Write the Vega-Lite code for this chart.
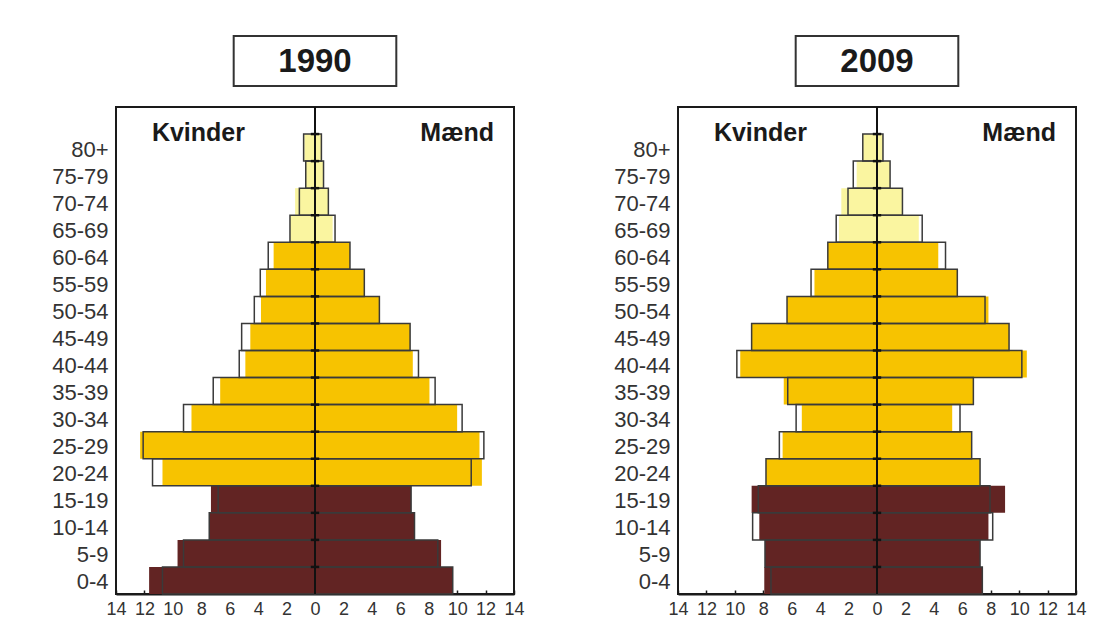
{
  "$schema": "https://vega.github.io/schema/vega-lite/v6.json",
  "background": "white",
  "padding": {"left": 50, "top": 35, "right": 5, "bottom": 5},
  "config": {"font": "Liberation Sans", "view": {"stroke": null}, "axis": {"labelOverlap": false}, "axisX": {"labelOverlap": false}},
  "datasets": {
    "pop": [
      {"year":"1990","age":"80+","sex":"Kvinder","group":"65+","value":-0.75,"ref":-0.8},
      {"year":"1990","age":"80+","sex":"Mænd","group":"65+","value":0.45,"ref":0.45},
      {"year":"1990","age":"75-79","sex":"Kvinder","group":"65+","value":-0.65,"ref":-0.65},
      {"year":"1990","age":"75-79","sex":"Mænd","group":"65+","value":0.6,"ref":0.6},
      {"year":"1990","age":"70-74","sex":"Kvinder","group":"65+","value":-1.4,"ref":-1.1},
      {"year":"1990","age":"70-74","sex":"Mænd","group":"65+","value":0.94,"ref":0.94},
      {"year":"1990","age":"65-69","sex":"Kvinder","group":"65+","value":-1.76,"ref":-1.76},
      {"year":"1990","age":"65-69","sex":"Mænd","group":"65+","value":1.24,"ref":1.41},
      {"year":"1990","age":"60-64","sex":"Kvinder","group":"20-64","value":-2.91,"ref":-3.29},
      {"year":"1990","age":"60-64","sex":"Mænd","group":"20-64","value":2.46,"ref":2.46},
      {"year":"1990","age":"55-59","sex":"Kvinder","group":"20-64","value":-3.45,"ref":-3.85},
      {"year":"1990","age":"55-59","sex":"Mænd","group":"20-64","value":3.47,"ref":3.47},
      {"year":"1990","age":"50-54","sex":"Kvinder","group":"20-64","value":-3.8,"ref":-4.27},
      {"year":"1990","age":"50-54","sex":"Mænd","group":"20-64","value":4.53,"ref":4.53},
      {"year":"1990","age":"45-49","sex":"Kvinder","group":"20-64","value":-4.55,"ref":-5.16},
      {"year":"1990","age":"45-49","sex":"Mænd","group":"20-64","value":6.69,"ref":6.69},
      {"year":"1990","age":"40-44","sex":"Kvinder","group":"20-64","value":-4.9,"ref":-5.33},
      {"year":"1990","age":"40-44","sex":"Mænd","group":"20-64","value":6.88,"ref":7.28},
      {"year":"1990","age":"35-39","sex":"Kvinder","group":"20-64","value":-6.67,"ref":-7.16},
      {"year":"1990","age":"35-39","sex":"Mænd","group":"20-64","value":8.05,"ref":8.45},
      {"year":"1990","age":"30-34","sex":"Kvinder","group":"20-64","value":-8.69,"ref":-9.25},
      {"year":"1990","age":"30-34","sex":"Mænd","group":"20-64","value":10.0,"ref":10.35},
      {"year":"1990","age":"25-29","sex":"Kvinder","group":"20-64","value":-12.3,"ref":-12.09},
      {"year":"1990","age":"25-29","sex":"Mænd","group":"20-64","value":11.57,"ref":11.88},
      {"year":"1990","age":"20-24","sex":"Kvinder","group":"20-64","value":-10.73,"ref":-11.43},
      {"year":"1990","age":"20-24","sex":"Mænd","group":"20-64","value":11.74,"ref":10.99},
      {"year":"1990","age":"15-19","sex":"Kvinder","group":"0-19","value":-7.32,"ref":-6.81},
      {"year":"1990","age":"15-19","sex":"Mænd","group":"0-19","value":6.76,"ref":6.76},
      {"year":"1990","age":"10-14","sex":"Kvinder","group":"0-19","value":-7.44,"ref":-7.44},
      {"year":"1990","age":"10-14","sex":"Mænd","group":"0-19","value":7.0,"ref":7.0},
      {"year":"1990","age":"5-9","sex":"Kvinder","group":"0-19","value":-9.67,"ref":-9.25},
      {"year":"1990","age":"5-9","sex":"Mænd","group":"0-19","value":8.87,"ref":8.64},
      {"year":"1990","age":"0-4","sex":"Kvinder","group":"0-19","value":-11.67,"ref":-10.73},
      {"year":"1990","age":"0-4","sex":"Mænd","group":"0-19","value":9.69,"ref":9.69},
      {"year":"2009","age":"80+","sex":"Kvinder","group":"65+","value":-1.0,"ref":-1.0},
      {"year":"2009","age":"80+","sex":"Mænd","group":"65+","value":0.42,"ref":0.42},
      {"year":"2009","age":"75-79","sex":"Kvinder","group":"65+","value":-1.43,"ref":-1.67},
      {"year":"2009","age":"75-79","sex":"Mænd","group":"65+","value":0.92,"ref":0.92},
      {"year":"2009","age":"70-74","sex":"Kvinder","group":"65+","value":-2.51,"ref":-2.04},
      {"year":"2009","age":"70-74","sex":"Mænd","group":"65+","value":1.79,"ref":1.79},
      {"year":"2009","age":"65-69","sex":"Kvinder","group":"65+","value":-2.68,"ref":-2.87},
      {"year":"2009","age":"65-69","sex":"Mænd","group":"65+","value":2.94,"ref":3.18},
      {"year":"2009","age":"60-64","sex":"Kvinder","group":"20-64","value":-3.46,"ref":-3.46},
      {"year":"2009","age":"60-64","sex":"Mænd","group":"20-64","value":4.31,"ref":4.82},
      {"year":"2009","age":"55-59","sex":"Kvinder","group":"20-64","value":-4.4,"ref":-4.64},
      {"year":"2009","age":"55-59","sex":"Mænd","group":"20-64","value":5.65,"ref":5.65},
      {"year":"2009","age":"50-54","sex":"Kvinder","group":"20-64","value":-6.33,"ref":-6.33},
      {"year":"2009","age":"50-54","sex":"Mænd","group":"20-64","value":7.84,"ref":7.6},
      {"year":"2009","age":"45-49","sex":"Kvinder","group":"20-64","value":-8.82,"ref":-8.82},
      {"year":"2009","age":"45-49","sex":"Mænd","group":"20-64","value":9.29,"ref":9.29},
      {"year":"2009","age":"40-44","sex":"Kvinder","group":"20-64","value":-9.62,"ref":-9.86},
      {"year":"2009","age":"40-44","sex":"Mænd","group":"20-64","value":10.54,"ref":10.19},
      {"year":"2009","age":"35-39","sex":"Kvinder","group":"20-64","value":-6.56,"ref":-6.28},
      {"year":"2009","age":"35-39","sex":"Mænd","group":"20-64","value":6.78,"ref":6.78},
      {"year":"2009","age":"30-34","sex":"Kvinder","group":"20-64","value":-5.29,"ref":-5.69},
      {"year":"2009","age":"30-34","sex":"Mænd","group":"20-64","value":5.29,"ref":5.84},
      {"year":"2009","age":"25-29","sex":"Kvinder","group":"20-64","value":-6.64,"ref":-6.87},
      {"year":"2009","age":"25-29","sex":"Mænd","group":"20-64","value":6.66,"ref":6.66},
      {"year":"2009","age":"20-24","sex":"Kvinder","group":"20-64","value":-7.81,"ref":-7.81},
      {"year":"2009","age":"20-24","sex":"Mænd","group":"20-64","value":7.25,"ref":7.25},
      {"year":"2009","age":"15-19","sex":"Kvinder","group":"0-19","value":-8.82,"ref":-8.35},
      {"year":"2009","age":"15-19","sex":"Mænd","group":"0-19","value":9.01,"ref":7.95},
      {"year":"2009","age":"10-14","sex":"Kvinder","group":"0-19","value":-8.28,"ref":-8.75},
      {"year":"2009","age":"10-14","sex":"Mænd","group":"0-19","value":7.84,"ref":8.14},
      {"year":"2009","age":"5-9","sex":"Kvinder","group":"0-19","value":-7.88,"ref":-7.88},
      {"year":"2009","age":"5-9","sex":"Mænd","group":"0-19","value":7.25,"ref":7.25},
      {"year":"2009","age":"0-4","sex":"Kvinder","group":"0-19","value":-7.93,"ref":-7.46},
      {"year":"2009","age":"0-4","sex":"Mænd","group":"0-19","value":7.41,"ref":7.41}
    ]
  },
  "spacing": 86,
  "hconcat": [
    {
      "spacing": 18,
      "vconcat": [
        {
          "width": 398, "height": 50,
          "data": {"values": [{"year": "1990"}]},
          "layer": [
            {"mark": {"type": "rect", "fill": "white", "stroke": "#333", "strokeWidth": 2},
             "encoding": {"x": {"datum": -5.72, "type": "quantitative", "scale": {"domain": [-14, 14], "nice": false}, "axis": null}, "x2": {"datum": 5.72}}},
            {"mark": {"type": "text", "fontSize": 33, "fontWeight": "bold", "color": "#1a1a1a", "baseline": "middle", "dy": 1},
             "encoding": {"text": {"field": "year"}}}
          ]
        },
        {
          "width": 398, "height": 487,
          "view": {"stroke": "#1a1a1a", "strokeWidth": 2},
          "layer": [
            {"data": {"name": "pop"}, "transform": [{"filter": "datum.year == '1990'"}],
             "mark": {"type": "bar"},
             "encoding": {
               "y": {"field": "age", "type": "nominal", "scale": {"domain": ["top","80+","75-79","70-74","65-69","60-64","55-59","50-54","45-49","40-44","35-39","30-34","25-29","20-24","15-19","10-14","5-9","0-4"], "paddingInner": 0, "paddingOuter": 0},
                     "axis": {"title": null, "ticks": false, "domain": false, "labelFontSize": 22, "labelPadding": 8, "labelColor": "#333", "labelOffset": 2, "labelExpr": "datum.value == 'top' ? '' : datum.value"}},
               "x": {"field": "value", "type": "quantitative", "scale": {"domain": [-14, 14], "nice": false},
                     "axis": {"title": null, "values": [-14,-12,-10,-8,-6,-4,-2,0,2,4,6,8,10,12,14], "labelExpr": "'' + abs(datum.value)", "grid": false, "domainColor": "#1a1a1a", "domainWidth": 2, "tickColor": "#1a1a1a", "tickSize": -4, "tickWidth": 1.5, "labelFontSize": 18, "labelColor": "#333", "labelPadding": 10, "labelOverlap": false, "labelFlush": false, "labelBound": false}},
               "color": {"field": "group", "type": "nominal", "scale": {"domain": ["0-19", "20-64", "65+"], "range": ["#622423", "#F7C300", "#FAF5A0"]}, "legend": null}
             }},
            {"data": {"name": "pop"}, "transform": [{"filter": "datum.year == '1990'"}],
             "mark": {"type": "bar", "fill": "white", "fillOpacity": 0, "stroke": "#3a3a3a", "strokeWidth": 1.5},
             "encoding": {
               "y": {"field": "age", "type": "nominal"},
               "x": {"field": "ref", "type": "quantitative",
                     "axis": {"title": null, "values": [-14,-12,-10,-8,-6,-4,-2,0,2,4,6,8,10,12,14], "labelExpr": "'' + abs(datum.value)", "grid": false, "domainColor": "#1a1a1a", "domainWidth": 2, "tickColor": "#1a1a1a", "tickSize": -4, "tickWidth": 1.5, "labelFontSize": 18, "labelColor": "#333", "labelPadding": 10, "labelOverlap": false, "labelFlush": false, "labelBound": false}}
             }},
            {"data": {"values": [{"zero": 0}]},
             "mark": {"type": "rule", "color": "#111", "strokeWidth": 2},
             "encoding": {"x": {"field": "zero", "type": "quantitative",
                     "axis": {"title": null, "values": [-14,-12,-10,-8,-6,-4,-2,0,2,4,6,8,10,12,14], "labelExpr": "'' + abs(datum.value)", "grid": false, "domainColor": "#1a1a1a", "domainWidth": 2, "tickColor": "#1a1a1a", "tickSize": -4, "tickWidth": 1.5, "labelFontSize": 18, "labelColor": "#333", "labelPadding": 10, "labelOverlap": false, "labelFlush": false, "labelBound": false}}}},
            {"data": {"name": "pop"}, "transform": [{"filter": "datum.year == '1990' && datum.sex == 'Kvinder'"}],
             "mark": {"type": "point", "shape": "stroke", "size": 70, "strokeWidth": 2.5, "color": "#111", "filled": false, "opacity": 1},
             "encoding": {"x": {"datum": 0, "type": "quantitative",
                     "axis": {"title": null, "values": [-14,-12,-10,-8,-6,-4,-2,0,2,4,6,8,10,12,14], "labelExpr": "'' + abs(datum.value)", "grid": false, "domainColor": "#1a1a1a", "domainWidth": 2, "tickColor": "#1a1a1a", "tickSize": -4, "tickWidth": 1.5, "labelFontSize": 18, "labelColor": "#333", "labelPadding": 10, "labelOverlap": false, "labelFlush": false, "labelBound": false}},
                          "y": {"field": "age", "type": "nominal", "bandPosition": 0}}},
            {"data": {"values": [{"label": "Kvinder"}]},
             "mark": {"type": "text", "fontSize": 25, "fontWeight": "bold", "color": "#1a1a1a", "baseline": "middle", "dy": 12},
             "encoding": {"x": {"datum": -8.2, "type": "quantitative",
                     "axis": {"title": null, "values": [-14,-12,-10,-8,-6,-4,-2,0,2,4,6,8,10,12,14], "labelExpr": "'' + abs(datum.value)", "grid": false, "domainColor": "#1a1a1a", "domainWidth": 2, "tickColor": "#1a1a1a", "tickSize": -4, "tickWidth": 1.5, "labelFontSize": 18, "labelColor": "#333", "labelPadding": 10, "labelOverlap": false, "labelFlush": false, "labelBound": false}},
                          "y": {"datum": "top", "type": "nominal"}, "text": {"field": "label"}}},
            {"data": {"values": [{"label": "Mænd"}]},
             "mark": {"type": "text", "fontSize": 25, "fontWeight": "bold", "color": "#1a1a1a", "baseline": "middle", "dy": 12},
             "encoding": {"x": {"datum": 10.0, "type": "quantitative",
                     "axis": {"title": null, "values": [-14,-12,-10,-8,-6,-4,-2,0,2,4,6,8,10,12,14], "labelExpr": "'' + abs(datum.value)", "grid": false, "domainColor": "#1a1a1a", "domainWidth": 2, "tickColor": "#1a1a1a", "tickSize": -4, "tickWidth": 1.5, "labelFontSize": 18, "labelColor": "#333", "labelPadding": 10, "labelOverlap": false, "labelFlush": false, "labelBound": false}},
                          "y": {"datum": "top", "type": "nominal"}, "text": {"field": "label"}}}
          ]
        }
      ]
    },
    {
      "spacing": 18,
      "vconcat": [
        {
          "width": 398, "height": 50,
          "data": {"values": [{"year": "2009"}]},
          "layer": [
            {"mark": {"type": "rect", "fill": "white", "stroke": "#333", "strokeWidth": 2},
             "encoding": {"x": {"datum": -5.72, "type": "quantitative", "scale": {"domain": [-14, 14], "nice": false}, "axis": null}, "x2": {"datum": 5.72}}},
            {"mark": {"type": "text", "fontSize": 33, "fontWeight": "bold", "color": "#1a1a1a", "baseline": "middle", "dy": 1},
             "encoding": {"text": {"field": "year"}}}
          ]
        },
        {
          "width": 398, "height": 487,
          "view": {"stroke": "#1a1a1a", "strokeWidth": 2},
          "layer": [
            {"data": {"name": "pop"}, "transform": [{"filter": "datum.year == '2009'"}],
             "mark": {"type": "bar"},
             "encoding": {
               "y": {"field": "age", "type": "nominal", "scale": {"domain": ["top","80+","75-79","70-74","65-69","60-64","55-59","50-54","45-49","40-44","35-39","30-34","25-29","20-24","15-19","10-14","5-9","0-4"], "paddingInner": 0, "paddingOuter": 0},
                     "axis": {"title": null, "ticks": false, "domain": false, "labelFontSize": 22, "labelPadding": 8, "labelColor": "#333", "labelOffset": 2, "labelExpr": "datum.value == 'top' ? '' : datum.value"}},
               "x": {"field": "value", "type": "quantitative", "scale": {"domain": [-14, 14], "nice": false},
                     "axis": {"title": null, "values": [-14,-12,-10,-8,-6,-4,-2,0,2,4,6,8,10,12,14], "labelExpr": "'' + abs(datum.value)", "grid": false, "domainColor": "#1a1a1a", "domainWidth": 2, "tickColor": "#1a1a1a", "tickSize": -4, "tickWidth": 1.5, "labelFontSize": 18, "labelColor": "#333", "labelPadding": 10, "labelOverlap": false, "labelFlush": false, "labelBound": false}},
               "color": {"field": "group", "type": "nominal", "scale": {"domain": ["0-19", "20-64", "65+"], "range": ["#622423", "#F7C300", "#FAF5A0"]}, "legend": null}
             }},
            {"data": {"name": "pop"}, "transform": [{"filter": "datum.year == '2009'"}],
             "mark": {"type": "bar", "fill": "white", "fillOpacity": 0, "stroke": "#3a3a3a", "strokeWidth": 1.5},
             "encoding": {
               "y": {"field": "age", "type": "nominal"},
               "x": {"field": "ref", "type": "quantitative",
                     "axis": {"title": null, "values": [-14,-12,-10,-8,-6,-4,-2,0,2,4,6,8,10,12,14], "labelExpr": "'' + abs(datum.value)", "grid": false, "domainColor": "#1a1a1a", "domainWidth": 2, "tickColor": "#1a1a1a", "tickSize": -4, "tickWidth": 1.5, "labelFontSize": 18, "labelColor": "#333", "labelPadding": 10, "labelOverlap": false, "labelFlush": false, "labelBound": false}}
             }},
            {"data": {"values": [{"zero": 0}]},
             "mark": {"type": "rule", "color": "#111", "strokeWidth": 2},
             "encoding": {"x": {"field": "zero", "type": "quantitative",
                     "axis": {"title": null, "values": [-14,-12,-10,-8,-6,-4,-2,0,2,4,6,8,10,12,14], "labelExpr": "'' + abs(datum.value)", "grid": false, "domainColor": "#1a1a1a", "domainWidth": 2, "tickColor": "#1a1a1a", "tickSize": -4, "tickWidth": 1.5, "labelFontSize": 18, "labelColor": "#333", "labelPadding": 10, "labelOverlap": false, "labelFlush": false, "labelBound": false}}}},
            {"data": {"name": "pop"}, "transform": [{"filter": "datum.year == '2009' && datum.sex == 'Kvinder'"}],
             "mark": {"type": "point", "shape": "stroke", "size": 70, "strokeWidth": 2.5, "color": "#111", "filled": false, "opacity": 1},
             "encoding": {"x": {"datum": 0, "type": "quantitative",
                     "axis": {"title": null, "values": [-14,-12,-10,-8,-6,-4,-2,0,2,4,6,8,10,12,14], "labelExpr": "'' + abs(datum.value)", "grid": false, "domainColor": "#1a1a1a", "domainWidth": 2, "tickColor": "#1a1a1a", "tickSize": -4, "tickWidth": 1.5, "labelFontSize": 18, "labelColor": "#333", "labelPadding": 10, "labelOverlap": false, "labelFlush": false, "labelBound": false}},
                          "y": {"field": "age", "type": "nominal", "bandPosition": 0}}},
            {"data": {"values": [{"label": "Kvinder"}]},
             "mark": {"type": "text", "fontSize": 25, "fontWeight": "bold", "color": "#1a1a1a", "baseline": "middle", "dy": 12},
             "encoding": {"x": {"datum": -8.2, "type": "quantitative",
                     "axis": {"title": null, "values": [-14,-12,-10,-8,-6,-4,-2,0,2,4,6,8,10,12,14], "labelExpr": "'' + abs(datum.value)", "grid": false, "domainColor": "#1a1a1a", "domainWidth": 2, "tickColor": "#1a1a1a", "tickSize": -4, "tickWidth": 1.5, "labelFontSize": 18, "labelColor": "#333", "labelPadding": 10, "labelOverlap": false, "labelFlush": false, "labelBound": false}},
                          "y": {"datum": "top", "type": "nominal"}, "text": {"field": "label"}}},
            {"data": {"values": [{"label": "Mænd"}]},
             "mark": {"type": "text", "fontSize": 25, "fontWeight": "bold", "color": "#1a1a1a", "baseline": "middle", "dy": 12},
             "encoding": {"x": {"datum": 10.0, "type": "quantitative",
                     "axis": {"title": null, "values": [-14,-12,-10,-8,-6,-4,-2,0,2,4,6,8,10,12,14], "labelExpr": "'' + abs(datum.value)", "grid": false, "domainColor": "#1a1a1a", "domainWidth": 2, "tickColor": "#1a1a1a", "tickSize": -4, "tickWidth": 1.5, "labelFontSize": 18, "labelColor": "#333", "labelPadding": 10, "labelOverlap": false, "labelFlush": false, "labelBound": false}},
                          "y": {"datum": "top", "type": "nominal"}, "text": {"field": "label"}}}
          ]
        }
      ]
    }
  ]
}
